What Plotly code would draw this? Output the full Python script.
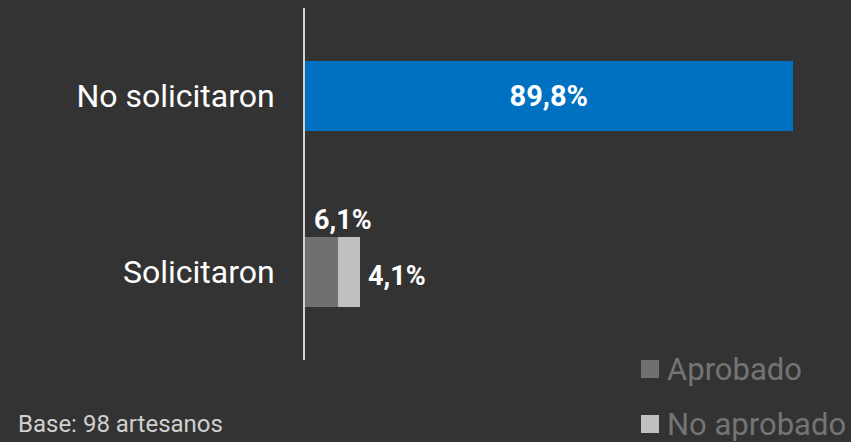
import plotly.graph_objects as go

categories = ["Solicitaron", "No solicitaron"]
no_solicitaron = [None, 89.8]
aprobado = [6.1, None]
no_aprobado = [4.1, None]
legend_names = ["Aprobado", "No aprobado"]
base_note = "Base: 98 artesanos"

BG = "#333333"
FONT = "Roboto"

fig = go.Figure()
fig.add_trace(go.Bar(
    y=categories, x=no_solicitaron, orientation="h", marker_color="#0070C0",
    marker_line_width=0,
    width=0.4, texttemplate="<b>%{x:.1f}%</b>", textposition="inside",
    insidetextanchor="middle", textfont=dict(color="white", size=29, family=FONT),
    showlegend=False, hoverinfo="skip"))
fig.add_trace(go.Bar(
    y=categories, x=aprobado, orientation="h", marker_color="#707070",
    marker_line_width=0,
    width=0.4, name=legend_names[0], showlegend=False, hoverinfo="skip"))
fig.add_trace(go.Bar(
    y=categories, x=no_aprobado, orientation="h", marker_color="#C0C0C0",
    marker_line_width=0,
    width=0.4, name=legend_names[1], showlegend=False, hoverinfo="skip"))

# labels for Solicitaron
fig.add_annotation(x=0, y=categories[0], text="<b>%s%%</b>" % f"{aprobado[0]:.1f}".replace(".", ","),
                   xanchor="left", yanchor="bottom", xshift=7, yshift=34, showarrow=False,
                   font=dict(color="white", size=27, family=FONT))
fig.add_annotation(x=aprobado[0] + no_aprobado[0], y=categories[0],
                   text="<b>%s%%</b>" % f"{no_aprobado[0]:.1f}".replace(".", ","),
                   xanchor="left", yanchor="middle", xshift=6, yshift=-4, showarrow=False,
                   font=dict(color="white", size=27, family=FONT))

# custom legend
leg_colors = ["#707070", "#C0C0C0"]
leg_y = [369, 424]
for name, col, yy in zip(legend_names, leg_colors, leg_y):
    fig.add_shape(type="rect", xref="paper", yref="paper",
                  x0=(641 - 305) / 543, x1=(659 - 305) / 543,
                  y0=(360 - yy + 9) / 352, y1=(360 - yy - 9) / 352,
                  fillcolor=col, line_width=0)
    fig.add_annotation(xref="paper", yref="paper", x=(665 - 305) / 543, y=(360 - yy) / 352,
                       text=name, xanchor="left", yanchor="middle", showarrow=False,
                       font=dict(color="#747474", size=31, family=FONT))

fig.add_annotation(xref="paper", yref="paper", x=(16 - 305) / 543, y=(360 - 424) / 352,
                   text=base_note, xanchor="left", yanchor="middle", showarrow=False,
                   font=dict(color="#D0D0D0", size=24, family=FONT))

fig.update_layout(
    width=851, height=442, barmode="stack", separators=",.",
    paper_bgcolor=BG, plot_bgcolor=BG,
    margin=dict(l=305, r=3, t=8, b=82),
    font=dict(family=FONT, color="white"),
    xaxis=dict(range=[0, 100], visible=False, fixedrange=True),
    yaxis=dict(range=[-0.5, 1.5], showline=True, linecolor="#D0D0D0", linewidth=2,
               showgrid=False, ticks="", tickfont=dict(size=32, color="white", family=FONT),
               ticklabelstandoff=22, fixedrange=True),
)

fig.write_html("out.html", config={"displayModeBar": False},
               post_script="document.body.style.margin='0';document.body.style.background='#333333';")
